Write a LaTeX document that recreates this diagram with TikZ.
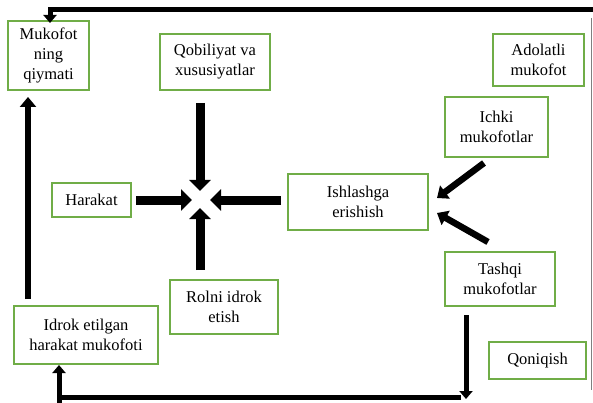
\documentclass[tikz,border=0pt]{standalone}
\usepackage{fontspec}
\setmainfont{Liberation Serif}
\usetikzlibrary{arrows.meta}
\definecolor{boxgreen}{RGB}{112,173,71}
\begin{document}
\begin{tikzpicture}[x=1pt,y=-1pt,
  box/.style={draw=boxgreen,line width=1.3pt,inner sep=0pt,align=center,
    font=\fontsize{16.5}{20}\selectfont},
  bigarr/.style={line width=9pt,-{Triangle[width=21pt,length=11pt]}},
  midarr/.style={line width=6.5pt,-{Triangle[width=16pt,length=10pt]}},
  thinarr/.style={line width=5pt,-{Triangle[width=13pt,length=8pt]}},
  plainline/.style={line width=5pt}]
\useasboundingbox (0,0) rectangle (593,403);
\fill[white] (0,0) rectangle (593,403);
% boxes
\node[box,minimum width=81pt,minimum height=69pt] (muk) at (48.5,55.5) {Mukofot\\ning\\qiymati};
\node[box,minimum width=110pt,minimum height=56pt] (qob) at (215,62) {Qobiliyat va\\xususiyatlar};
\node[box,minimum width=91pt,minimum height=52pt] (ado) at (538.5,60) {Adolatli\\mukofot};
\node[box,minimum width=103pt,minimum height=60pt] (ich) at (496.5,127) {Ichki\\mukofotlar};
\node[box,minimum width=79pt,minimum height=34pt] (har) at (91.5,200) {Harakat};
\node[box,minimum width=140pt,minimum height=56pt] (ish) at (358,202) {Ishlashga\\erishish};
\node[box,minimum width=110pt,minimum height=54pt] (tas) at (500,279) {Tashqi\\mukofotlar};
\node[box,minimum width=108pt,minimum height=54pt] (rol) at (224,307) {Rolni idrok\\etish};
\node[box,minimum width=144pt,minimum height=58pt] (idr) at (86,335) {Idrok etilgan\\harakat mukofoti};
\node[box,minimum width=97pt,minimum height=37pt] (qon) at (537.5,360.5) {Qoniqish};
% coordinates
\coordinate (qobS) at (200,103);
\coordinate (qobT) at (200,191);
\coordinate (harS) at (136,200);
\coordinate (harT) at (192,200);
\coordinate (ishS) at (281,200);
\coordinate (ishT) at (210,200);
\coordinate (rolS) at (200,270);
\coordinate (rolT) at (200,208);
\coordinate (ichS) at (484,163);
\coordinate (ichT) at (437,198);
\coordinate (tasS) at (488,242);
\coordinate (tasT) at (437,213);
\coordinate (leftS) at (28,299);
\coordinate (leftT) at (28,97);
\coordinate (topR) at (593,10);
\coordinate (topC) at (50,10);
\coordinate (topT) at (50,23);
\coordinate (downS) at (466,315);
\coordinate (downT) at (466,399);
\coordinate (botR) at (461,397);
\coordinate (botL) at (59,397);
\coordinate (botB) at (59,403);
\coordinate (botT) at (59,365);
\coordinate (rg1) at (591.5,18);
\coordinate (rg2) at (591.5,390);
% connectors
\draw[bigarr] (qobS) -- (qobT);
\draw[bigarr] (harS) -- (harT);
\draw[bigarr] (ishS) -- (ishT);
\draw[bigarr] (rolS) -- (rolT);
\draw[midarr] (ichS) -- (ichT);
\draw[midarr] (tasS) -- (tasT);
\draw[midarr] (leftS) -- (leftT);
\draw[thinarr] (topR) -- (topC) -- (topT);
\draw[thinarr] (downS) -- (downT);
\draw[plainline] (botR) -- (botL);
\draw[thinarr] (botB) -- (botT);
\draw[gray,line width=0.8pt] (rg1) -- (rg2);
\end{tikzpicture}
\end{document}
